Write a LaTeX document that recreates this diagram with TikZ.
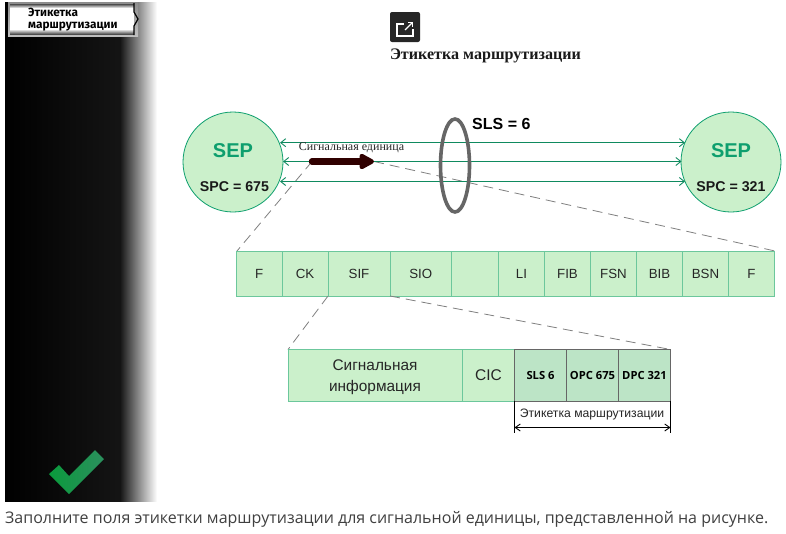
\documentclass[tikz,border=0pt]{standalone}
\usepackage{fontspec}
\setmainfont{Liberation Sans}
\newfontfamily\serifru{Liberation Serif}
\newfontfamily\opensans{Open Sans}
\newfontfamily\tabfont{Fira Sans}
\usetikzlibrary{arrows.meta,calc}
\definecolor{fieldfill}{HTML}{CBF0CB}
\definecolor{fieldline}{HTML}{6CC79C}
\definecolor{sepgreen}{HTML}{0E9F6E}
\definecolor{linkgreen}{HTML}{0F8A5F}
\definecolor{labelfill}{HTML}{BCE4C6}
\definecolor{checkA}{HTML}{0A9A3C}
\definecolor{checkB}{HTML}{2C8F5E}
\definecolor{maroon}{HTML}{300000}
\tikzset{
  x=1pt,y=-1pt,
  fieldbox/.style={draw=fieldline,fill=fieldfill,line width=1pt,outer sep=0pt,minimum height=45pt,inner sep=0pt,anchor=north west,font=\fontsize{13.3}{15}\selectfont,text=black!85},
  lowbox/.style={draw=fieldline,fill=fieldfill,line width=1pt,outer sep=0pt,minimum height=51.5pt,inner sep=0pt,anchor=north west,text=black!85},
  labelbox/.style={draw=black!60,fill=labelfill,line width=1pt,outer sep=0pt,minimum height=51.5pt,minimum width=52pt,inner sep=0pt,anchor=north west,font=\fontsize{11.2}{13}\selectfont\opensans\bfseries},
  sepnode/.style={circle,draw=sepgreen,fill=fieldfill,line width=.8pt,outer sep=0pt,minimum size=100pt,inner sep=0pt},
  linkline/.style={draw=linkgreen,line width=.9pt,{Straight Barb[length=5pt,width=8pt]}-{Straight Barb[length=5pt,width=8pt]}},
  guide/.style={draw=black!50,line width=.8pt,dash pattern=on 10pt off 6pt},
}
\begin{document}
\begin{tikzpicture}
\useasboundingbox (0,0) rectangle (786,533);
\fill[white] (0,0) rectangle (786,533);
% sidebar
\shade[left color=black,right color=black!92] (5,2) rectangle (120,501);
\shade[left color=black!92,right color=white] (120,2) rectangle (157,501);
% tab
\shade[top color=black!45,bottom color=black!25] (8,2) rectangle (138,36);
\fill[white] (10,7) rectangle (134,31);
\shade[top color=black!70,bottom color=white] (10,4) rectangle (134,8);
\shade[top color=white,bottom color=black!70] (10,29) rectangle (134,34);
\draw[black,line width=1.2pt] (134,3) -- (134,12) -- (138,19) -- (134,26) -- (134,35);
\node[anchor=west,inner sep=0pt,font=\fontsize{11.8}{13}\selectfont\tabfont\bfseries] (tab1) at (28,12) {Этикетка};
\node[anchor=west,inner sep=0pt,font=\fontsize{11.8}{13}\selectfont\tabfont\bfseries] (tab2) at (28,27) {маршрутизации};
% check
\fill[left color=checkA,right color=checkB] (49,474) -- (59,465) -- (69,476) -- (95,450) -- (104,459) -- (69,494) -- cycle;
% icon
\fill[black!85,rounded corners=2pt] (390,12) rectangle (420,42);
\draw[white,line width=1.3pt] (404,24) -- (397,24) -- (397,36) -- (413,36) -- (413,29);
\draw[white,line width=1.3pt,-{Straight Barb[length=3pt,width=6pt]}] (405,30) -- (413,22);
\node[anchor=center,inner sep=0pt,font=\fontsize{16.1}{18}\selectfont\serifru\bfseries,text=black!90] (title) at (485.5,56) {Этикетка маршрутизации};
% guides
\coordinate (arrowA) at (312,161.5);
\coordinate (arrowB) at (374,161.5);
\coordinate (row1L) at (237,251);
\coordinate (row1R) at (775,251);
\draw[guide] (arrowA) -- (row1L);
\draw[guide] (arrowB) -- (row1R);
% circles
\node[sepnode] (sepL) at (233,162) {};
\node[sepnode] (sepR) at (731,162) {};
\node[font=\fontsize{20}{22}\selectfont\bfseries,text=sepgreen,inner sep=0pt] (sepLt) at (233,151) {SEP};
\node[font=\fontsize{20}{22}\selectfont\bfseries,text=sepgreen,inner sep=0pt] (sepRt) at (731,151) {SEP};
\node[font=\fontsize{14.2}{16}\selectfont\bfseries,text=black!90,inner sep=0pt] (spcL) at (234.5,187) {SPC = 675};
\node[font=\fontsize{14.2}{16}\selectfont\bfseries,text=black!90,inner sep=0pt] (spcR) at (731,187) {SPC = 321};
% links
\draw[linkline] (280,142.7) coordinate (a1) -- (685,142.7) coordinate (b1);
\draw[linkline] (283,161.5) coordinate (a2) -- (681.5,161.5) coordinate (b2);
\draw[linkline] (280,181.5) coordinate (a3) -- (685,181.5) coordinate (b3);
% ellipse
\draw[black!60,line width=3.6pt] (455,165.5) ellipse [x radius=14.5,y radius=46.5];
\node[anchor=west,inner sep=0pt,font=\fontsize{16}{18}\selectfont\bfseries] (sls) at (472,124) {SLS = 6};
% signal unit
\node[anchor=center,inner sep=0pt,font=\fontsize{12}{14}\selectfont\serifru,text=black!85] (unit) at (351.5,148) {Сигнальная единица};
\draw[line cap=round,line width=6.5pt,draw=maroon,-{Triangle[length=17pt,width=17pt,round]}] (arrowA) -- (arrowB);
% row 1
\foreach \nm/\xa/\w/\txt in {f1/236.5/45.5/F,f2/282/46/CK,f3/328/62/SIF,f4/390/61.5/SIO,f5/451.5/47/{},f6/498.5/46/LI,f7/544.5/46/FIB,f8/590.5/46/FSN,f9/636.5/46/BIB,f10/682.5/46/BSN,f11/728.5/46/F}
  \node[fieldbox,minimum width=\w pt] (\nm) at (\xa,251) {\txt};
% lower guides
\draw[guide] (f3.south west) -- (288,349.5) coordinate (row2L);
\draw[guide] (f4.south west) -- (670.5,349.5) coordinate (row2R);
% row 2
\node[lowbox,minimum width=174.5pt] (info) at (288,349.5) {};
\node[align=center,inner sep=0pt,text=black!85,font=\fontsize{15.4}{20.5}\selectfont] (infot) at (375,377) {Сигнальная\\информация};
\node[lowbox,minimum width=52pt,font=\fontsize{15.5}{17}\selectfont] (cic) at (462.5,349.5) {CIC};
\node[labelbox] (sls6) at (514.5,349.5) {SLS 6};
\node[labelbox] (opc) at (566.5,349.5) {OPC 675};
\node[labelbox] (dpc) at (618.5,349.5) {DPC 321};
% dimension
\draw[black,line width=.9pt] (sls6.south west) -- (514.5,433) coordinate (dimL);
\draw[black,line width=.9pt] (dpc.south east) -- (670.5,433) coordinate (dimR);
\draw[black,line width=.9pt,{Straight Barb[length=5pt,width=7pt]}-{Straight Barb[length=5pt,width=7pt]}] (514.5,427.5) -- (670.5,427.5);
\node[inner sep=0pt,font=\fontsize{12.2}{14}\selectfont,text=black!85] (dimtxt) at (592,414) {Этикетка маршрутизации};
% caption
\node[anchor=west,inner sep=0pt,font=\fontsize{16}{18}\selectfont\opensans,text=black!75] (cap) at (5,519) {Заполните поля этикетки маршрутизации для сигнальной единицы, представленной на рисунке.};
\end{tikzpicture}
\end{document}
